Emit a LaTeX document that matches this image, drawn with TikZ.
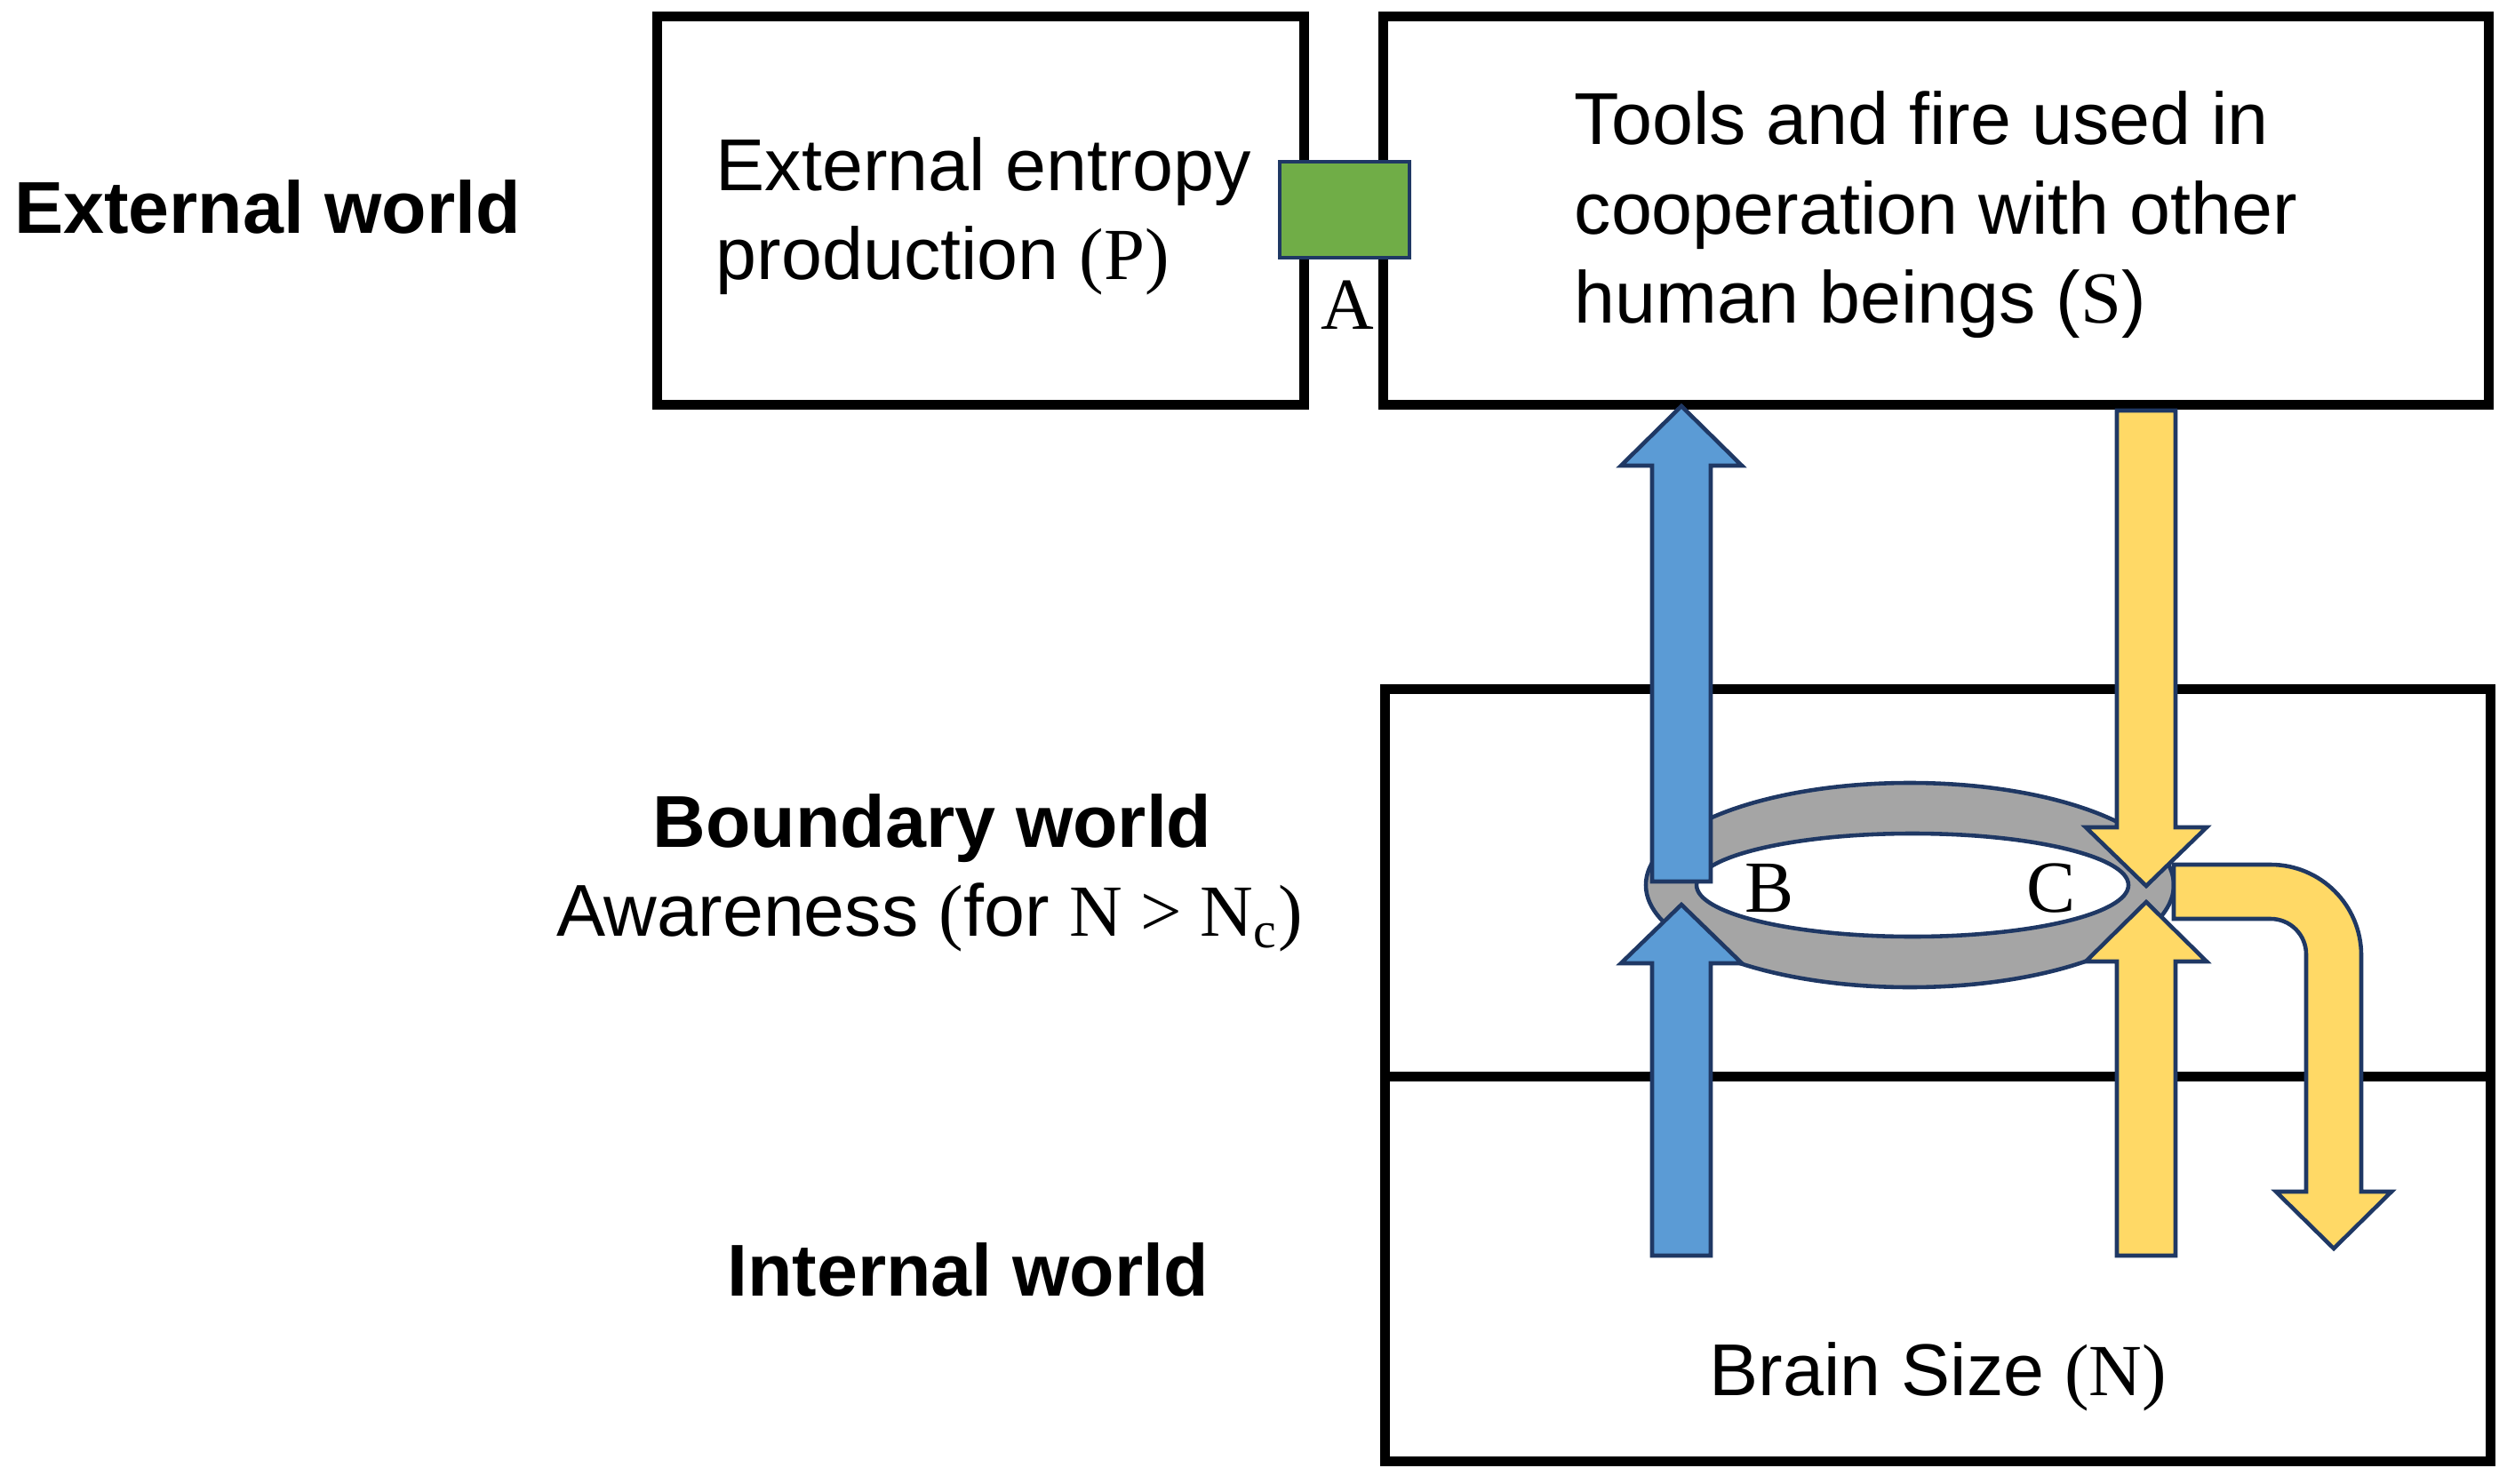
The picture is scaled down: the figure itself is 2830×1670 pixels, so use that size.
\documentclass[tikz,border=0pt]{standalone}
\usepackage{fontspec}
\setmainfont{Liberation Sans}
\newfontfamily\fserif{Liberation Serif}
\usepackage{tikz}
\usetikzlibrary{positioning}
\definecolor{azul}{HTML}{5B9BD5}
\definecolor{amarillo}{HTML}{FFD966}
\definecolor{verde}{HTML}{70AD47}
\definecolor{gris}{HTML}{A5A5A5}
\definecolor{marino}{HTML}{1F3864}
\tikzset{
    box_mundo/.style={rectangle, draw=black, line width=3.1pt, inner sep=0pt, outer sep=0pt, minimum width=12.43cm},
    texto_caja/.style={align=left, inner sep=0pt, font=\fontsize{23.5}{28.7}\selectfont},
    titulo_mundo/.style={inner sep=0pt, font=\fontsize{23.5}{28.7}\selectfont\bfseries},
    letra/.style={inner sep=0pt, font=\fontsize{23.5}{28}\selectfont\fserif},
    flecha_azul/.style={draw=marino, line width=1.3pt, fill=azul},
    flecha_amarilla/.style={draw=marino, line width=1.3pt, fill=amarillo},
    anillo/.style={draw=marino, line width=1.3pt, fill=gris, even odd rule}
}
% flecha de bloque vertical: estilo, x, y cola, y base punta, y punta
\newcommand{\flechabloque}[5]{%
    \draw[#1] (#2-33,#3) -- (#2-33,#4) -- (#2-68,#4) -- (#2,#5) -- (#2+68,#4) -- (#2+33,#4) -- (#2+33,#3) -- cycle;
}

\begin{document}
\begin{tikzpicture}[x=0.01cm, y=-0.01cm]
    \useasboundingbox (0,0) rectangle (2830,1670);

    % cajas
    \node[box_mundo, minimum width=7.27cm, minimum height=4.36cm] (entropia) at (1103.5,237) {};
    \node[box_mundo, minimum height=4.36cm] (herramientas) at (2178.5,237) {};
    \node[box_mundo, minimum height=4.35cm] (frontera) at (2180.5,993.5) {};
    \node[box_mundo, minimum height=4.33cm, below=0pt of frontera] (interno) {};
    \node[rectangle, draw=marino, line width=1.3pt, fill=verde, minimum width=1.46cm, minimum height=1.08cm] (puerta) at (1513,236) {};

    % textos
    \node[titulo_mundo, anchor=base] (t_ext) at (301,263) {External world};
    \node[titulo_mundo, anchor=base] (t_front) at (1049,953) {Boundary world};
    \node[texto_caja, anchor=base] (t_conc) at (1046,1053) {Awareness {\fserif (}for {\fserif N > N\textsubscript{c})}};
    \node[titulo_mundo, anchor=base] (t_int) at (1089,1458) {Internal world};
    \node[texto_caja, anchor=base west] (t_p) at (805,315) {External entropy\\production {\fserif (P)}};
    \node[texto_caja, anchor=base west] (t_s) at (1771,364) {Tools and fire used in\\cooperation with other\\human beings ({\fserif S})};
    \node[texto_caja, anchor=base] (t_n) at (2181,1570) {Brain Size {\fserif (N)}};

    % anillo de conciencia
    \draw[anillo] (2149,996) ellipse [x radius=297, y radius=115] (2152,996) ellipse [x radius=243, y radius=58];

    % flechas
    \flechabloque{flecha_azul}{1892}{992}{524}{457}
    \flechabloque{flecha_azul}{1892}{1413}{1084}{1018}
    \flechabloque{flecha_amarilla}{2415}{462}{931}{997}
    \flechabloque{flecha_amarilla}{2415}{1413}{1082}{1015}
    \draw[flecha_amarilla] (2446,973) -- (2555,973) arc (-90:0:102) -- (2657,1341) -- (2691,1341) -- (2626,1405) -- (2561,1341) -- (2595,1341) -- (2595,1074) arc (0:-90:40) -- (2446,1034) -- cycle;

    \node[letra, anchor=base] (a) at (1516,371) {A};
    \node[letra, anchor=base] (b) at (1991,1026) {B};
    \node[letra, anchor=base] (c) at (2308,1026) {C};
\end{tikzpicture}
\end{document}
